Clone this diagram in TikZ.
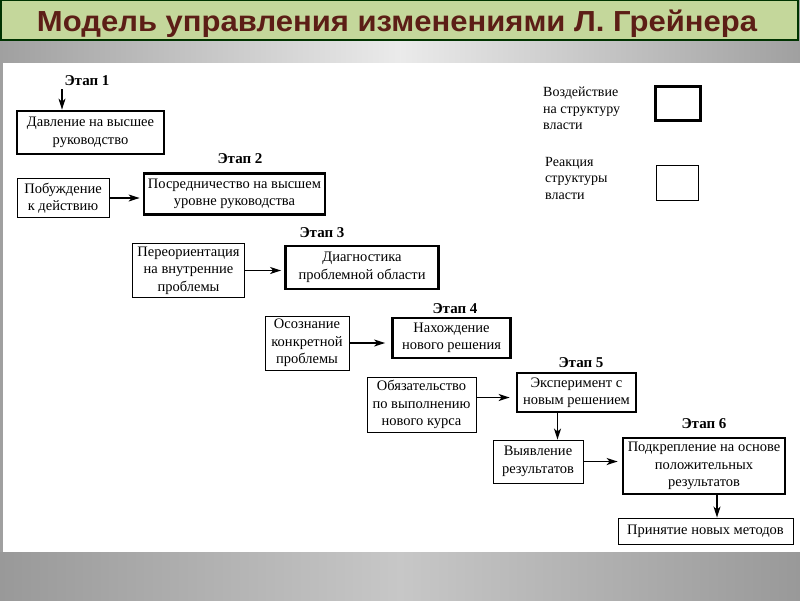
\documentclass[tikz,border=0pt]{standalone}
\usepackage{fontspec}
\setmainfont{Liberation Serif}
\newfontfamily\titlefont{Liberation Sans}
\usetikzlibrary{arrows.meta,calc}
\definecolor{titlegreen}{RGB}{196,215,155}
\definecolor{titlered}{RGB}{92,30,22}
\definecolor{edgegray}{RGB}{160,160,160}
\tikzset{
  thickbox/.style={draw=black,line width=2.8pt,fill=white,align=center,inner sep=0pt,font=\fontsize{14.5}{17.5}\selectfont},
  thinbox/.style={draw=black,line width=0.9pt,fill=white,align=center,inner sep=0pt,font=\fontsize{14.5}{17.5}\selectfont},
  stagelabel/.style={anchor=base,font=\fontsize{15}{17}\selectfont\bfseries},
  legendtext/.style={anchor=north west,align=left,inner sep=0pt,font=\fontsize{14}{16.5}\selectfont},
  arr/.style={line width=1.4pt,-{Stealth[length=11pt,width=7pt,inset=3pt]}}
}
\begin{document}
\begin{tikzpicture}[x=1pt,y=-1pt]
\useasboundingbox (0,0) rectangle (800,600);
% background
\fill[edgegray] (0,0) rectangle (800,600);
\shade[left color=edgegray,right color=edgegray,middle color=black!8] (0,40) rectangle (800,63);
\shade[left color=black!40,right color=black!40,middle color=black!22] (0,552) rectangle (800,600);
\fill[white] (3,63) rectangle (800,552);
% title
\draw[fill=titlegreen,draw=black!80!green,line width=1.2pt] (1,0.5) rectangle (798,40);
\node[anchor=base,text=titlered,inner sep=0pt] (title) at (397,31)
  {\resizebox{720pt}{\height}{\titlefont\fontsize{29}{30}\selectfont\bfseries Модель управления изменениями Л. Грейнера}};
% stage labels
\node[stagelabel] (s1) at (87,85) {Этап 1};
\node[stagelabel] (s2) at (240,163) {Этап 2};
\node[stagelabel] (s3) at (322,237) {Этап 3};
\node[stagelabel] (s4) at (455,313) {Этап 4};
\node[stagelabel] (s5) at (581,367) {Этап 5};
\node[stagelabel] (s6) at (704,428) {Этап 6};
% boxes
\node[thickbox,minimum width=147pt,minimum height=43pt] (b1) at (90.5,132.5) {Давление на высшее\\руководство};
\node[thinbox,minimum width=92pt,minimum height=39pt] (p2) at (63,198) {Побуждение\\к действию};
\node[thickbox,minimum width=181pt,minimum height=41pt] (b2) at (234.5,194) {Посредничество на высшем\\уровне руководства};
\node[thinbox,minimum width=112pt,minimum height=54pt] (p3) at (188.5,270.5) {Переориентация\\на внутренние\\проблемы};
\node[thickbox,minimum width=153pt,minimum height=43pt] (b3) at (362,267.5) {Диагностика\\проблемной области};
\node[thinbox,minimum width=84pt,minimum height=54pt] (p4) at (307,343) {Осознание\\конкретной\\проблемы};
\node[thickbox,minimum width=118pt,minimum height=40pt] (b4) at (451.5,338) {Нахождение\\нового решения};
\node[thinbox,minimum width=109pt,minimum height=55pt] (p5) at (421.5,404.5) {Обязательство\\по выполнению\\нового курса};
\node[thickbox,minimum width=119pt,minimum height=39pt] (b5) at (576.5,392.5) {Эксперимент с\\новым решением};
\node[thinbox,minimum width=90pt,minimum height=43pt] (r5) at (538,461.5) {Выявление\\результатов};
\node[thickbox,minimum width=162pt,minimum height=56pt] (b6) at (704,466) {Подкрепление на основе\\положительных\\результатов};
\node[thinbox,minimum width=175pt,minimum height=26pt] (fin) at (705.5,531) {Принятие новых методов};
% legend
\node[legendtext] (l1) at (543,87) {Воздействие\\на структуру\\власти};
\node[thickbox,minimum width=45pt,minimum height=34pt] (lb1) at (678,103.5) {};
\node[legendtext] (l2) at (545,157) {Реакция\\структуры\\власти};
\node[thinbox,minimum width=42pt,minimum height=35pt] (lb2) at (677.5,183) {};
% connectors
\coordinate (a1) at (62,89);
\draw[arr] (a1) -- (a1 |- b1.north);
\draw[arr,shorten >=3pt] (p2.east) -- (p2.east -| b2.west);
\draw[arr,shorten >=3pt] (p3.east) -- (p3.east -| b3.west);
\draw[arr,shorten >=6pt] (p4.east) -- (p4.east -| b4.west);
\draw[arr,shorten >=6pt] ([yshift=7pt]p5.east) -- ([yshift=7pt]p5.east -| b5.west);
\draw[arr] ([xshift=-19pt]b5.south) -- ([xshift=-19pt]b5.south |- r5.north);
\draw[arr,shorten >=4pt] (r5.east) -- (r5.east -| b6.west);
\draw[arr] ([xshift=13pt]b6.south) -- ([xshift=13pt]b6.south |- fin.north);
\end{tikzpicture}
\end{document}
